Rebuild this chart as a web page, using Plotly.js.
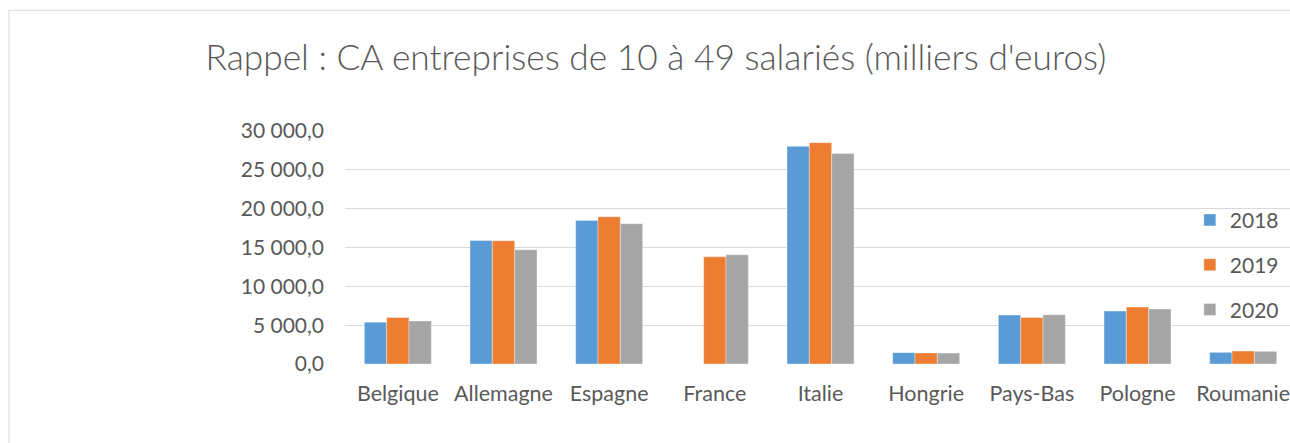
<!DOCTYPE html>
<html>
<head>
<meta charset="utf-8">
<script src="https://cdn.plot.ly/plotly-3.0.1.min.js"></script>
<style>
html,body{margin:0;padding:0;background:#fff;}
#chart{width:1290px;height:443px;}
</style>
</head>
<body>
<div id="chart"></div>
<script>
const categories = ["Belgique","Allemagne","Espagne","France","Italie","Hongrie","Pays-Bas","Pologne","Roumanie"];
const seriesNames = ["2018","2019","2020"];
const values2018 = [5380, 15900, 18490, null, 28030, 1460, 6300, 6810, 1500];
const values2019 = [5980, 15870, 18960, 13800, 28500, 1420, 6000, 7330, 1670];
const values2020 = [5550, 14700, 18060, 14060, 27090, 1410, 6340, 7070, 1630];
const colors = ["#5B9BD5", "#ED7D31", "#A5A5A5"];
const allValues = [values2018, values2019, values2020];

const FONT = "Lato, 'Open Sans', sans-serif";
const TXT = "#595959";

const traces = allValues.map((vals, i) => ({
  type: "bar",
  name: seriesNames[i],
  x: categories,
  y: vals,
  legendgroup: "g" + i,
  marker: {color: colors[i], line: {color: "rgba(255,255,255,0.6)", width: 0.6}},
  hoverinfo: "x+y+name"
}));

const layout = {
  width: 1290,
  height: 443,
  paper_bgcolor: "#fff",
  plot_bgcolor: "#fff",
  separators: ", ",
  font: {family: FONT, color: TXT, size: 21},
  margin: {l: 345, r: 0, t: 131, b: 79, pad: 0, autoexpand: false},
  title: {
    text: "Rappel : CA entreprises de 10 à 49 salariés (milliers d'euros)",
    font: {family: FONT, size: 35.3, color: TXT, weight: 300},
    xref: "container", x: 0.5085, xanchor: "center",
    yref: "container", y: 0.871, yanchor: "middle"
  },
  barmode: "group",
  bargap: 0.366,
  bargroupgap: 0,
  showlegend: true,
  legend: {
    x: 0.894, xanchor: "left",
    y: 0.705, yanchor: "top",
    bgcolor: "rgba(0,0,0,0)",
    font: {family: FONT, size: 21, color: TXT},
    tracegroupgap: 14.5,
    itemwidth: 30
  },
  xaxis: {
    type: "category",
    range: [-0.5, 8.443],
    showgrid: false,
    showline: false,
    zeroline: false,
    ticks: "",
    ticklabelstandoff: 14,
    tickfont: {family: FONT, size: 21.5, color: TXT},
    fixedrange: true
  },
  yaxis: {
    range: [0, 30000],
    dtick: 5000,
    tick0: 0,
    tickformat: ",.1f",
    showgrid: true,
    gridcolor: "#D9D9D9",
    gridwidth: 1.3,
    zeroline: false,
    showline: false,
    ticks: "",
    ticklabelstandoff: 20,
    tickfont: {family: FONT, size: 21, color: TXT},
    fixedrange: true
  },
  shapes: [{
    type: "rect", xref: "paper", yref: "paper",
    x0: -0.3556, x1: 1.2, y0: -0.6, y1: 1.518,
    line: {color: "#D9D9D9", width: 1}, fillcolor: "rgba(0,0,0,0)", layer: "below"
  }]
};

Plotly.newPlot("chart", traces, layout, {displayModeBar: false, staticPlot: true});
</script>
</body>
</html>
